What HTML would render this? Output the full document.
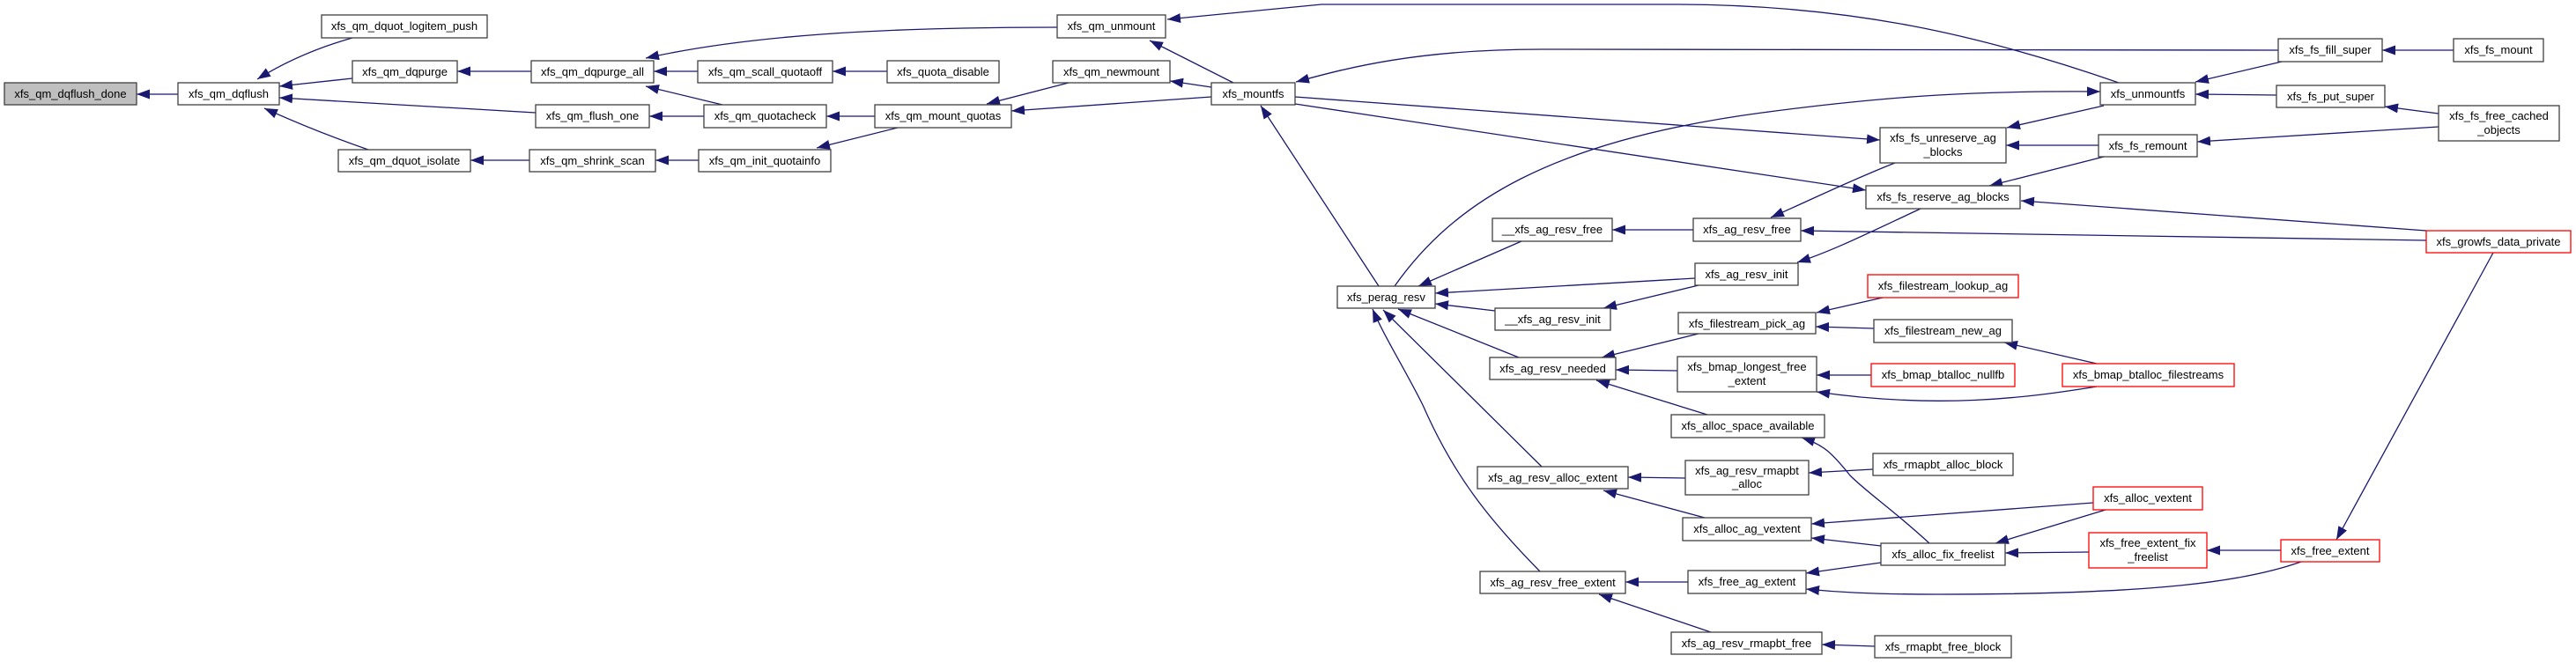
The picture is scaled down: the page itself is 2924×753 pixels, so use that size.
<!DOCTYPE html>
<html><head><meta charset="utf-8">
<style>
html,body{margin:0;padding:0;background:#fff;}
svg{display:block;}
text{font-family:"Liberation Sans",Arial,sans-serif;font-size:13px;fill:#000;}
</style></head>
<body>
<svg width="2924" height="753" viewBox="0 0 2924 753" xmlns="http://www.w3.org/2000/svg">
<defs>
<marker id="a" markerUnits="userSpaceOnUse" markerWidth="16" markerHeight="12" refX="15" refY="5.5" orient="auto">
<path d="M0,0 L15,5.5 L0,11 z" fill="#191970"/>
</marker>
</defs>
<g fill="none" stroke="#191970" stroke-width="1.3" marker-end="url(#a)">
<path d="M202,107 L155,107"/>
<path d="M400,43 Q340,60 292,90"/>
<path d="M400,89 L317,98"/>
<path d="M608,128 L317,111"/>
<path d="M418,170 Q360,150 300,123"/>
<path d="M603,81 L519,81"/>
<path d="M601,182 L534,182"/>
<path d="M1200,31 C1000,31 850,40 733,66"/>
<path d="M792,81 L742,81"/>
<path d="M820,119 L733,98"/>
<path d="M799,132 L737,132"/>
<path d="M793,182 L744,182"/>
<path d="M1007,81 L945,81"/>
<path d="M993,132 L938,132"/>
<path d="M1019,145 L927,168"/>
<path d="M1213,94 L1120,118"/>
<path d="M1375,110 L1148,126"/>
<path d="M1375,99 L1328,92"/>
<path d="M1400,94 L1305,46"/>
<path d="M2405,94 C2250,40 2100,5 1900,5 L1500,5 L1325,22"/>
<path d="M2586,57 L1750,56 C1600,56 1520,80 1471,93"/>
<path d="M1583,325 C1650,230 1760,160 2000,128 C2150,108 2250,103 2384,104"/>
<path d="M1470,110 L2134,159"/>
<path d="M1470,118 L2118,216"/>
<path d="M2388,120 L2278,145"/>
<path d="M2382,165 L2277,165"/>
<path d="M2388,178 L2258,211"/>
<path d="M2754,262 L2294,228"/>
<path d="M2754,273 L2044,262"/>
<path d="M2590,70 L2492,93"/>
<path d="M2584,108 L2492,107"/>
<path d="M2768,129 L2707,121"/>
<path d="M2768,144 L2494,161"/>
<path d="M2785,57 L2704,57"/>
<path d="M2151,185 C2100,205 2060,225 2010,247"/>
<path d="M2180,237 C2120,265 2080,285 2040,298"/>
<path d="M1922,261 L1830,261"/>
<path d="M1924,316 L1629,333"/>
<path d="M1928,324 L1820,350"/>
<path d="M1727,274 L1610,325"/>
<path d="M1697,353 L1629,345"/>
<path d="M1565,325 L1431,120"/>
<path d="M1748,649 C1690,590 1650,540 1615,460 C1595,420 1570,380 1558,351"/>
<path d="M1750,530 L1570,352"/>
<path d="M1724,406 L1587,351"/>
<path d="M1928,379 L1818,406"/>
<path d="M1904,421 L1834,420"/>
<path d="M1938,471 L1812,432"/>
<path d="M2137,338 L2062,355"/>
<path d="M2127,373 L2061,371"/>
<path d="M2380,413 L2275,389"/>
<path d="M2380,439 C2300,452 2200,465 2062,445"/>
<path d="M2124,426 L2062,426"/>
<path d="M2190,617 C2150,580 2120,560 2100,540 C2080,515 2070,505 2045,497"/>
<path d="M2126,533 L2053,537"/>
<path d="M1913,543 L1848,542"/>
<path d="M1935,588 L1820,557"/>
<path d="M2376,571 L2056,595"/>
<path d="M2135,620 L2056,611"/>
<path d="M2135,639 L2050,651"/>
<path d="M2390,579 L2265,617"/>
<path d="M2371,627 L2276,628"/>
<path d="M2612,638 C2550,660 2450,675 2200,675 C2120,675 2080,672 2050,669"/>
<path d="M2589,625 L2505,625"/>
<path d="M2830,287 L2652,613"/>
<path d="M1916,661 L1845,661"/>
<path d="M1942,718 L1815,675"/>
<path d="M2128,734 L2068,732"/>
</g>
<g stroke-width="1.3">
<!-- nodes -->
<rect x="5" y="94" width="150" height="25" fill="#bfbfbf" stroke="#404040"/>
<text x="80" y="111" text-anchor="middle">xfs_qm_dqflush_done</text>
<rect x="202" y="94" width="115" height="25" fill="#fff" stroke="#404040"/>
<text x="259.5" y="111" text-anchor="middle">xfs_qm_dqflush</text>
<rect x="365" y="17" width="188" height="26" fill="#fff" stroke="#404040"/>
<text x="459" y="34" text-anchor="middle">xfs_qm_dquot_logitem_push</text>
<rect x="400" y="69" width="119" height="25" fill="#fff" stroke="#404040"/>
<text x="459.5" y="86" text-anchor="middle">xfs_qm_dqpurge</text>
<rect x="384" y="170" width="150" height="25" fill="#fff" stroke="#404040"/>
<text x="459" y="187" text-anchor="middle">xfs_qm_dquot_isolate</text>
<rect x="603" y="69" width="139" height="25" fill="#fff" stroke="#404040"/>
<text x="672.5" y="86" text-anchor="middle">xfs_qm_dqpurge_all</text>
<rect x="608" y="119" width="129" height="26" fill="#fff" stroke="#404040"/>
<text x="672.5" y="136" text-anchor="middle">xfs_qm_flush_one</text>
<rect x="601" y="170" width="143" height="25" fill="#fff" stroke="#404040"/>
<text x="672.5" y="187" text-anchor="middle">xfs_qm_shrink_scan</text>
<rect x="792" y="69" width="153" height="25" fill="#fff" stroke="#404040"/>
<text x="868.5" y="86" text-anchor="middle">xfs_qm_scall_quotaoff</text>
<rect x="799" y="119" width="139" height="26" fill="#fff" stroke="#404040"/>
<text x="868.5" y="136" text-anchor="middle">xfs_qm_quotacheck</text>
<rect x="793" y="170" width="150" height="25" fill="#fff" stroke="#404040"/>
<text x="868" y="187" text-anchor="middle">xfs_qm_init_quotainfo</text>
<rect x="993" y="119" width="155" height="26" fill="#fff" stroke="#404040"/>
<text x="1070.5" y="136" text-anchor="middle">xfs_qm_mount_quotas</text>
<rect x="1007" y="69" width="127" height="25" fill="#fff" stroke="#404040"/>
<text x="1070.5" y="86" text-anchor="middle">xfs_quota_disable</text>
<rect x="1200" y="17" width="123" height="26" fill="#fff" stroke="#404040"/>
<text x="1261.5" y="34" text-anchor="middle">xfs_qm_unmount</text>
<rect x="1195" y="69" width="133" height="25" fill="#fff" stroke="#404040"/>
<text x="1261.5" y="86" text-anchor="middle">xfs_qm_newmount</text>
<rect x="1375" y="94" width="95" height="25" fill="#fff" stroke="#404040"/>
<text x="1422.5" y="111" text-anchor="middle">xfs_mountfs</text>
<rect x="1518" y="325" width="111" height="25" fill="#fff" stroke="#404040"/>
<text x="1573.5" y="342" text-anchor="middle">xfs_perag_resv</text>
<rect x="1694" y="248" width="136" height="26" fill="#fff" stroke="#404040"/>
<text x="1762" y="265" text-anchor="middle">__xfs_ag_resv_free</text>
<rect x="1697" y="350" width="131" height="25" fill="#fff" stroke="#404040"/>
<text x="1762.5" y="367" text-anchor="middle">__xfs_ag_resv_init</text>
<rect x="1691" y="406" width="143" height="25" fill="#fff" stroke="#404040"/>
<text x="1762.5" y="423" text-anchor="middle">xfs_ag_resv_needed</text>
<rect x="1677" y="530" width="171" height="25" fill="#fff" stroke="#404040"/>
<text x="1762.5" y="547" text-anchor="middle">xfs_ag_resv_alloc_extent</text>
<rect x="1680" y="649" width="165" height="25" fill="#fff" stroke="#404040"/>
<text x="1762.5" y="666" text-anchor="middle">xfs_ag_resv_free_extent</text>
<rect x="1922" y="248" width="122" height="26" fill="#fff" stroke="#404040"/>
<text x="1983" y="265" text-anchor="middle">xfs_ag_resv_free</text>
<rect x="1924" y="299" width="117" height="25" fill="#fff" stroke="#404040"/>
<text x="1982.5" y="316" text-anchor="middle">xfs_ag_resv_init</text>
<rect x="1905" y="355" width="156" height="24" fill="#fff" stroke="#404040"/>
<text x="1983" y="372" text-anchor="middle">xfs_filestream_pick_ag</text>
<rect x="1904" y="405" width="158" height="40" fill="#fff" stroke="#404040"/>
<text x="1983" y="421" text-anchor="middle">xfs_bmap_longest_free</text>
<text x="1983" y="437" text-anchor="middle">_extent</text>
<rect x="1897" y="471" width="174" height="26" fill="#fff" stroke="#404040"/>
<text x="1984" y="488" text-anchor="middle">xfs_alloc_space_available</text>
<rect x="1913" y="523" width="140" height="39" fill="#fff" stroke="#404040"/>
<text x="1983" y="539" text-anchor="middle">xfs_ag_resv_rmapbt</text>
<text x="1983" y="554" text-anchor="middle">_alloc</text>
<rect x="1910" y="588" width="146" height="26" fill="#fff" stroke="#404040"/>
<text x="1983" y="605" text-anchor="middle">xfs_alloc_ag_vextent</text>
<rect x="1916" y="648" width="134" height="26" fill="#fff" stroke="#404040"/>
<text x="1983" y="665" text-anchor="middle">xfs_free_ag_extent</text>
<rect x="1897" y="718" width="171" height="25" fill="#fff" stroke="#404040"/>
<text x="1982.5" y="735" text-anchor="middle">xfs_ag_resv_rmapbt_free</text>
<rect x="2120" y="312" width="171" height="26" fill="#fff" stroke="#ff0000"/>
<text x="2205.5" y="329" text-anchor="middle">xfs_filestream_lookup_ag</text>
<rect x="2127" y="363" width="157" height="26" fill="#fff" stroke="#404040"/>
<text x="2205.5" y="380" text-anchor="middle">xfs_filestream_new_ag</text>
<rect x="2124" y="413" width="163" height="26" fill="#fff" stroke="#ff0000"/>
<text x="2205.5" y="430" text-anchor="middle">xfs_bmap_btalloc_nullfb</text>
<rect x="2126" y="515" width="159" height="25" fill="#fff" stroke="#404040"/>
<text x="2205.5" y="532" text-anchor="middle">xfs_rmapbt_alloc_block</text>
<rect x="2135" y="617" width="141" height="25" fill="#fff" stroke="#404040"/>
<text x="2205.5" y="634" text-anchor="middle">xfs_alloc_fix_freelist</text>
<rect x="2128" y="722" width="155" height="25" fill="#fff" stroke="#404040"/>
<text x="2205.5" y="739" text-anchor="middle">xfs_rmapbt_free_block</text>
<rect x="2134" y="145" width="143" height="40" fill="#fff" stroke="#404040"/>
<text x="2205.5" y="161" text-anchor="middle">xfs_fs_unreserve_ag</text>
<text x="2205.5" y="177" text-anchor="middle">_blocks</text>
<rect x="2118" y="211" width="175" height="26" fill="#fff" stroke="#404040"/>
<text x="2205.5" y="228" text-anchor="middle">xfs_fs_reserve_ag_blocks</text>
<rect x="2384" y="94" width="108" height="25" fill="#fff" stroke="#404040"/>
<text x="2438" y="111" text-anchor="middle">xfs_unmountfs</text>
<rect x="2382" y="153" width="112" height="25" fill="#fff" stroke="#404040"/>
<text x="2438" y="170" text-anchor="middle">xfs_fs_remount</text>
<rect x="2341" y="413" width="195" height="26" fill="#fff" stroke="#ff0000"/>
<text x="2438.5" y="430" text-anchor="middle">xfs_bmap_btalloc_filestreams</text>
<rect x="2376" y="553" width="124" height="26" fill="#fff" stroke="#ff0000"/>
<text x="2438" y="570" text-anchor="middle">xfs_alloc_vextent</text>
<rect x="2371" y="605" width="134" height="40" fill="#fff" stroke="#ff0000"/>
<text x="2438" y="621" text-anchor="middle">xfs_free_extent_fix</text>
<text x="2438" y="637" text-anchor="middle">_freelist</text>
<rect x="2586" y="44" width="118" height="26" fill="#fff" stroke="#404040"/>
<text x="2645" y="61" text-anchor="middle">xfs_fs_fill_super</text>
<rect x="2584" y="97" width="123" height="25" fill="#fff" stroke="#404040"/>
<text x="2645.5" y="114" text-anchor="middle">xfs_fs_put_super</text>
<rect x="2589" y="613" width="112" height="25" fill="#fff" stroke="#ff0000"/>
<text x="2645" y="630" text-anchor="middle">xfs_free_extent</text>
<rect x="2785" y="44" width="102" height="26" fill="#fff" stroke="#404040"/>
<text x="2836" y="61" text-anchor="middle">xfs_fs_mount</text>
<rect x="2768" y="120" width="137" height="40" fill="#fff" stroke="#404040"/>
<text x="2836.5" y="136" text-anchor="middle">xfs_fs_free_cached</text>
<text x="2836.5" y="152" text-anchor="middle">_objects</text>
<rect x="2754" y="262" width="164" height="25" fill="#fff" stroke="#ff0000"/>
<text x="2836" y="279" text-anchor="middle">xfs_growfs_data_private</text>
</g>
</svg>
</body></html>
